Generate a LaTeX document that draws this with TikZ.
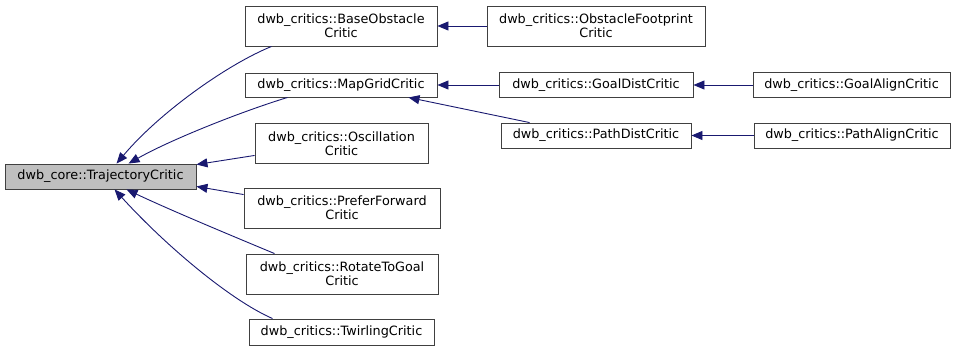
\documentclass[tikz,border=0pt]{standalone}
\usepackage{fontspec}
\setmainfont{DejaVu Sans}
\usetikzlibrary{arrows.meta}
\definecolor{edgeblue}{HTML}{191970}
\definecolor{rootgray}{HTML}{BFBFBF}
\tikzset{
  cls/.style={draw=black!75, line width=0.9bp, fill=white, inner sep=0pt, align=center,
    font=\fontsize{12.8bp}{14bp}\selectfont},
  rootcls/.style={cls, fill=rootgray},
  inh/.style={draw=edgeblue, line width=0.9bp, -{Triangle[length=11bp,width=9bp,fill=edgeblue]}},
}
\begin{document}
\begin{tikzpicture}[x=1bp,y=-1bp]
\useasboundingbox (0,0) rectangle (959,351);
\node[rootcls, minimum width=191bp, minimum height=25bp] (root) at (100.5,176.5) {dwb\_core::TrajectoryCritic};
\node[cls, minimum width=192bp, minimum height=40bp] (base) at (341,26) {dwb\_critics::BaseObstacle\\Critic};
\node[cls, minimum width=192bp, minimum height=24bp] (map) at (341,85) {dwb\_critics::MapGridCritic};
\node[cls, minimum width=173bp, minimum height=40bp] (osc) at (341.5,143.5) {dwb\_critics::Oscillation\\Critic};
\node[cls, minimum width=196bp, minimum height=40bp] (pref) at (342,208) {dwb\_critics::PreferForward\\Critic};
\node[cls, minimum width=192bp, minimum height=40bp] (rot) at (342,274) {dwb\_critics::RotateToGoal\\Critic};
\node[cls, minimum width=185bp, minimum height=26bp] (twirl) at (341.5,332) {dwb\_critics::TwirlingCritic};
\node[cls, minimum width=218bp, minimum height=40bp] (foot) at (596,26) {dwb\_critics::ObstacleFootprint\\Critic};
\node[cls, minimum width=194bp, minimum height=25bp] (goald) at (596,85) {dwb\_critics::GoalDistCritic};
\node[cls, minimum width=190bp, minimum height=25bp] (pathd) at (596,135.5) {dwb\_critics::PathDistCritic};
\node[cls, minimum width=197bp, minimum height=25bp] (goala) at (851.5,85) {dwb\_critics::GoalAlignCritic};
\node[cls, minimum width=196bp, minimum height=25bp] (patha) at (852,135.5) {dwb\_critics::PathAlignCritic};
% edges into root
\draw[inh] ([xshift=27bp]base.south west) .. controls (228,64) and (160,112) .. ([xshift=112bp]root.north west);
\draw[inh] ([xshift=43bp]map.south west) .. controls (240,112) and (170,140) .. ([xshift=124bp]root.north west);
\draw[inh] ([yshift=8.5bp]osc.south west) -- ([yshift=-1bp]root.north east);
\draw[inh] ([yshift=-7bp]pref.north west) -- ([yshift=3bp]root.south east);
\draw[inh] ([xshift=29bp]rot.north west) .. controls (230,235) and (170,210) .. ([xshift=122bp]root.south west);
\draw[inh] ([xshift=24bp]twirl.north west) .. controls (230,300) and (165,245) .. ([xshift=110bp]root.south west);
% other edges
\draw[inh] (foot.west) -- (base.east);
\draw[inh] (goald.west) -- (map.east);
\draw[inh] ([xshift=29bp]pathd.north west) -- ([xshift=-29bp]map.south east);
\draw[inh] (goala.west) -- (goald.east);
\draw[inh] (patha.west) -- (pathd.east);
\end{tikzpicture}
\end{document}
